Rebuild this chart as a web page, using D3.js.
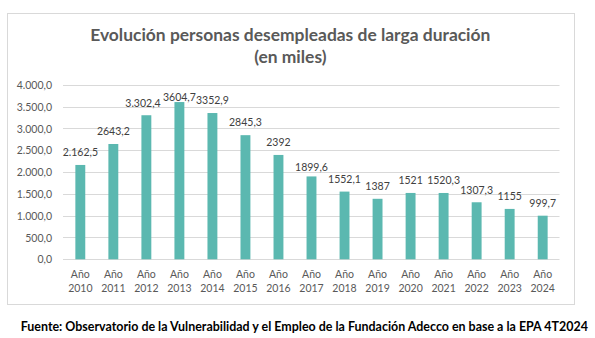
<!DOCTYPE html>
<html>
<head>
<meta charset="utf-8">
<script src="https://cdn.jsdelivr.net/npm/d3@7"></script>
<style>
  html, body { margin: 0; padding: 0; background: #fff; }
  svg { display: block; font-family: Lato, "Open Sans", sans-serif; }
</style>
</head>
<body>
<svg id="chart" width="595" height="338"></svg>
<script>
const years = ['2010', '2011', '2012', '2013', '2014', '2015', '2016', '2017', '2018', '2019', '2020', '2021', '2022', '2023', '2024'];
const values = [2162.5, 2643.2, 3302.4, 3604.7, 3352.9, 2845.3, 2392, 1899.6, 1552.1, 1387, 1521, 1520.3, 1307.3, 1155, 999.7];
const valueLabels = ['2.162,5', '2643,2', '3.302,4', '3604,7', '3352,9', '2845,3', '2392', '1899,6', '1552,1', '1387', '1521', '1520,3', '1307,3', '1155', '999,7'];
const yTicks = [0, 500, 1000, 1500, 2000, 2500, 3000, 3500, 4000];
const titleLines = ['Evolución personas desempleadas de larga duración', '(en miles)'];
const source = 'Fuente: Observatorio de la Vulnerabilidad y el Empleo de la Fundación Adecco en base a la EPA 4T2024';

const barColor = '#5bb8b0';
const textColor = '#595959';
const gridColor = '#d9d9d9';

// label nudges where the original had labels moved by hand
const labelGap = { '2013': 5, '2017': 9.5 };
const labelShift = { '2012': -3.4 };

const svg = d3.select('#chart');
const es = d3.formatLocale({ decimal: ',', thousands: '.', grouping: [3], currency: ['', '€'] });
const fmt = es.format(',.1f');

// chart frame
svg.append('rect')
  .attr('x', 7.5).attr('y', 13.5)
  .attr('width', 567).attr('height', 291)
  .attr('fill', '#fff')
  .attr('stroke', gridColor);

// fit text to a target width
function fit(sel, width) {
  const len = sel.node().getComputedTextLength();
  const size = parseFloat(sel.attr('font-size'));
  sel.attr('font-size', size * width / len);
}

const t1 = svg.append('text')
  .attr('x', 290.3).attr('y', 40.5)
  .attr('text-anchor', 'middle')
  .attr('font-weight', 'bold')
  .attr('font-size', 17)
  .attr('fill', textColor)
  .text(titleLines[0]);
fit(t1, 400.5);

svg.append('text')
  .attr('x', 290.3).attr('y', 63.3)
  .attr('text-anchor', 'middle')
  .attr('font-weight', 'bold')
  .attr('font-size', t1.attr('font-size'))
  .attr('fill', textColor)
  .text(titleLines[1]);

const x = d3.scaleBand()
  .domain(years)
  .range([63.8, 559.2])
  .paddingInner(0.7)
  .paddingOuter(0.35);

const y = d3.scaleLinear()
  .domain([0, 4000])
  .range([259.3, 84.8]);

// gridlines
svg.append('g')
  .selectAll('line')
  .data(yTicks)
  .join('line')
  .attr('x1', 63).attr('x2', 559.5)
  .attr('y1', (d) => Math.round(y(d)) + 0.5)
  .attr('y2', (d) => Math.round(y(d)) + 0.5)
  .attr('stroke', gridColor)
  .attr('stroke-width', 1);

// y axis labels
const yAxis = svg.append('g')
  .attr('transform', 'translate(63,0)')
  .call(d3.axisLeft(y).tickValues(yTicks).tickFormat(fmt).tickSize(0).tickPadding(11));
yAxis.select('.domain').remove();
yAxis.selectAll('text')
  .attr('font-family', 'Lato, sans-serif')
  .attr('font-size', 10.5)
  .attr('fill', textColor)
  .attr('dy', '0.35em');

// bars
svg.append('g')
  .selectAll('rect')
  .data(values)
  .join('rect')
  .attr('x', (d, i) => x(years[i]))
  .attr('width', x.bandwidth())
  .attr('y', (d) => y(d))
  .attr('height', (d) => y(0) - y(d))
  .attr('fill', barColor);

// value labels
svg.append('g')
  .selectAll('text')
  .data(values)
  .join('text')
  .attr('x', (d, i) => x(years[i]) + x.bandwidth() / 2 + (labelShift[years[i]] ?? 0))
  .attr('y', (d, i) => y(d) - (labelGap[years[i]] ?? 12.5) + 3.8)
  .attr('text-anchor', 'middle')
  .attr('font-size', 10.5)
  .attr('fill', '#404040')
  .text((d, i) => valueLabels[i]);

// x axis labels
const xl = svg.append('g')
  .selectAll('text')
  .data(years)
  .join('text')
  .attr('text-anchor', 'middle')
  .attr('font-size', 10.5)
  .attr('fill', textColor);
xl.append('tspan')
  .attr('x', (d) => x(d) + x.bandwidth() / 2)
  .attr('y', 278)
  .text('Año');
xl.append('tspan')
  .attr('x', (d) => x(d) + x.bandwidth() / 2)
  .attr('y', 292)
  .text((d) => d);

// source
const src = svg.append('text')
  .attr('x', 20.7).attr('y', 331)
  .attr('font-weight', 'bold')
  .attr('font-size', 11)
  .attr('fill', '#000')
  .text(source);
fit(src, 567.5);
</script>
</body>
</html>
